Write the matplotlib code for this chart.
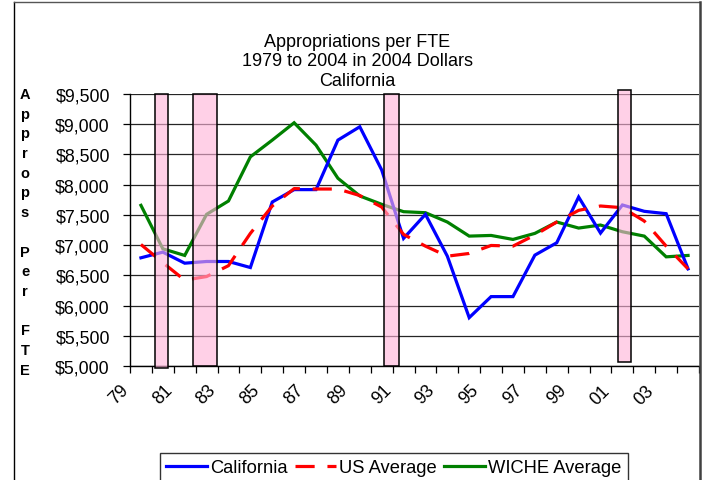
import matplotlib
matplotlib.use("Agg")
import matplotlib.pyplot as plt
from matplotlib.patches import Rectangle
from matplotlib.lines import Line2D
import matplotlib.transforms as mtransforms

plt.rcParams['font.family'] = ['Liberation Sans', 'DejaVu Sans']

# ---------------- data ----------------
years = list(range(1979, 2005))
tick_labels = ["79", "81", "83", "85", "87", "89", "91", "93", "95", "97", "99", "01", "03"]
california = [6790, 6884, 6701, 6729, 6729, 6629, 7713, 7918, 7918, 8737, 8958, 8244, 7111,
              7509, 6817, 5800, 6148, 6148, 6834, 7039, 7796, 7199, 7664, 7559, 7520, 6607]
us_average = [7010, 6710, 6420, 6480, 6660, 7194, 7647, 7935, 7928, 7928, 7820, 7630, 7177,
              6983, 6817, 6862, 6994, 6983, 7166, 7382, 7575, 7647, 7619, 7398, 6983, 6607]
wiche_average = [7658, 6939, 6829, 7509, 7730, 8460, 8737, 9024, 8654, 8106, 7813, 7675, 7553,
                 7536, 7382, 7149, 7160, 7094, 7194, 7382, 7282, 7332, 7221, 7149, 6806, 6829]
# recession shading: (start, end, bottom, top) in data units
recessions = [(1979.65, 1980.22, 4975, 9500),
              (1981.36, 1982.46, 5000, 9500),
              (1990.10, 1990.78, 5000, 9500),
              (2000.80, 2001.41, 5060, 9560)]
y_ticks = [5000, 5500, 6000, 6500, 7000, 7500, 8000, 8500, 9000, 9500]
ylabel_letters = ["A", "p", "p", "r", "o", "p", "s", "", "P", "e", "r", "", "F", "T", "E"]
title = "Appropriations per FTE\n1979 to 2004 in 2004 Dollars\nCalifornia"

W, H = 706, 481
fig = plt.figure(figsize=(W / 100, H / 100), dpi=100)
fig.patch.set_facecolor("white")

ax = fig.add_axes([130 / W, (H - 367) / H, (699 - 130) / W, (367 - 95) / H])
ax.set_facecolor("white")

lw = 2.3
ax.plot(years, california, color="#0000FF", lw=lw, label="California", zorder=3,
        solid_joinstyle="miter")
ax.plot(years, us_average, color="#FF0000", lw=lw, label="US Average", zorder=3,
        dashes=(6, 4))
ax.plot(years, wiche_average, color="#008000", lw=lw, label="WICHE Average", zorder=2,
        solid_joinstyle="miter")

for (x0, x1, b, t) in recessions:
    ax.add_patch(Rectangle((x0, b), x1 - x0, t - b, facecolor=(1.0, 0.70, 0.85, 0.62),
                           edgecolor="black", lw=1.1, zorder=4, clip_on=False))

ax.set_xlim(years[0] - 0.5, years[-1] + 0.5)
ax.set_ylim(y_ticks[0], y_ticks[-1])

# y axis
ax.set_yticks(y_ticks)
ax.set_yticklabels(["${:,}".format(v) for v in y_ticks])
ax.tick_params(axis="y", direction="out", length=5, width=0.9, pad=9.5, labelsize=12.8,
               colors="black")
ax.yaxis.grid(True, color="#252525", lw=0.9)
ax.set_axisbelow(True)

# x axis: tick marks at category boundaries, labels at category centres
boundaries = [y - 0.5 for y in years] + [years[-1] + 0.5]
ax.set_xticks(boundaries)
ax.set_xticklabels([])
ax.tick_params(axis="x", which="major", direction="out", length=5, width=0.9)
ax.set_xticks(years[::2], minor=True)
ax.set_xticklabels(tick_labels, minor=True, rotation=45, ha="center", va="top",
                   fontsize=12.8)
ax.tick_params(axis="x", which="minor", length=0, pad=11)
offset = mtransforms.ScaledTranslation(-22 / 100, 0, fig.dpi_scale_trans)
for lab in ax.get_xticklabels(minor=True):
    lab.set_transform(lab.get_transform() + offset)

for s in ["top", "right"]:
    ax.spines[s].set_visible(False)
ax.spines["left"].set_color("black")
ax.spines["bottom"].set_color("black")
ax.spines["left"].set_linewidth(1)
ax.spines["bottom"].set_linewidth(1)

# title
fig.text(357 / W, 1 - 62 / H, title, ha="center", va="center", fontsize=13,
         linespacing=1.17)

# vertical y label letters
y0, dy = 95, 19.7
for k, ch in enumerate(ylabel_letters):
    if ch:
        fig.text(25 / W, 1 - (y0 + k * dy) / H, ch, ha="center", va="center",
                 fontsize=10.5, fontweight="bold")

# legend
leg = fig.legend(loc="upper left", bbox_to_anchor=(160 / W, 1 - 454 / H), ncol=3,
                 frameon=True, fancybox=False, fontsize=13.2, handlelength=2.2,
                 handletextpad=0.2, columnspacing=0.4, borderaxespad=0, borderpad=0.35)
leg.get_frame().set_edgecolor("black")
leg.get_frame().set_linewidth(1)

# chart border
fig.add_artist(Line2D([14 / W, 14 / W], [0, 1 - 3 / H], transform=fig.transFigure,
                      color="black", lw=1))
fig.add_artist(Line2D([14 / W, 699 / W], [1 - 3 / H, 1 - 3 / H], transform=fig.transFigure,
                      color="#555555", lw=1))
fig.add_artist(Line2D([699.5 / W, 699.5 / W], [0, 1 - 3 / H], transform=fig.transFigure,
                      color="#404040", lw=1.8))

fig.savefig("out.png", dpi=100)
